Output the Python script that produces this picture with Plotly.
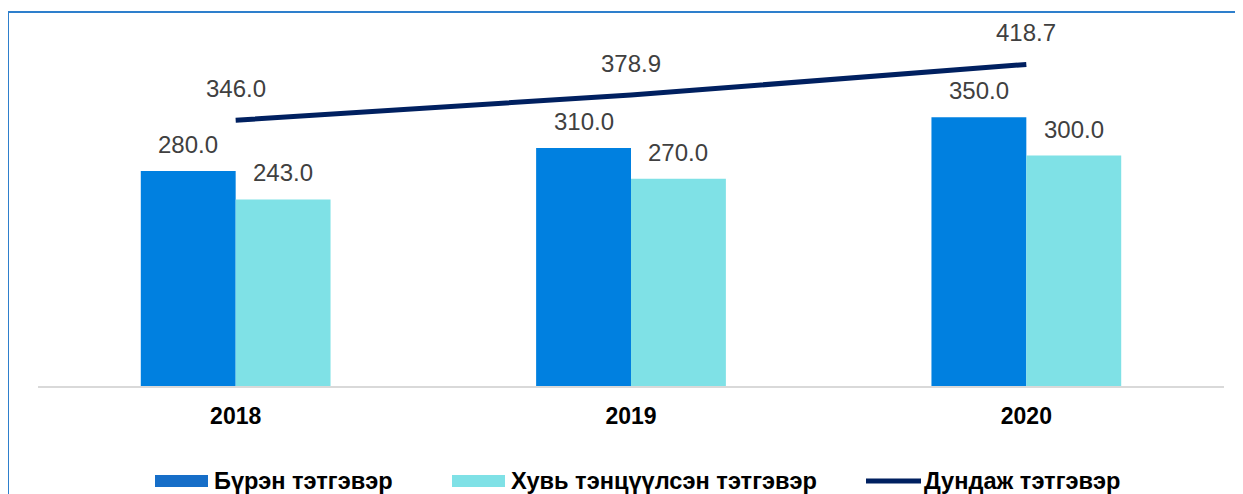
import plotly.graph_objects as go

years = ["2018", "2019", "2020"]
full_pension = [280.0, 310.0, 350.0]
partial_pension = [243.0, 270.0, 300.0]
avg_pension = [346.0, 378.9, 418.7]
series_names = ["Бүрэн тэтгэвэр", "Хувь тэнцүүлсэн тэтгэвэр", "Дундаж тэтгэвэр"]

C_FULL = "#0080E0"
C_FULL_LEG = "#166EC8"
C_PART = "#7FE1E6"
C_LINE = "#002060"
FONT = "Arial, Liberation Sans, sans-serif"

# page offset (body margin) compensation
OFF = 8
W, H = 1243, 494
ML, MR, MT, MB = 38 - OFF, W - (1224 - OFF), 12 - OFF, H - (386 - OFF)
pw = W - ML - MR
ph = H - MT - MB

def px2x(px):
    return (px - OFF - ML) / pw

def py2y(py):
    return (H - MB - (py - OFF)) / ph

fig = go.Figure()
fig.add_trace(go.Bar(x=years, y=full_pension, name=series_names[0],
                     marker=dict(color=C_FULL, line=dict(width=0)), showlegend=False))
fig.add_trace(go.Bar(x=years, y=partial_pension, name=series_names[1],
                     marker=dict(color=C_PART, line=dict(width=0)), showlegend=False))
fig.add_trace(go.Scatter(x=years, y=avg_pension, name=series_names[2], mode="lines",
                         line=dict(color=C_LINE, width=5), showlegend=False))

annotations = []
bar_off = pw / 3 * 0.48 / 4
lab_font = dict(family=FONT, size=24, color="#404040")
for i, yr in enumerate(years):
    annotations.append(dict(x=i, y=full_pension[i], xref="x", yref="y", text=f"{full_pension[i]:.1f}",
                            showarrow=False, xshift=-bar_off, yshift=11, yanchor="bottom", font=lab_font))
    annotations.append(dict(x=i, y=partial_pension[i], xref="x", yref="y", text=f"{partial_pension[i]:.1f}",
                            showarrow=False, xshift=bar_off, yshift=11, yanchor="bottom", font=lab_font))
    annotations.append(dict(x=i, y=avg_pension[i], xref="x", yref="y", text=f"{avg_pension[i]:.1f}",
                            showarrow=False, yshift=16, yanchor="bottom", font=lab_font))

leg_font = dict(family=FONT, size=23.6, color="#000000")
leg_y = py2y(481)
annotations += [
    dict(x=px2x(212), y=leg_y, xref="paper", yref="paper", text="<b>" + series_names[0] + "</b>",
         showarrow=False, xanchor="left", yanchor="middle", font=leg_font),
    dict(x=px2x(509), y=leg_y, xref="paper", yref="paper", text="<b>" + series_names[1] + "</b>",
         showarrow=False, xanchor="left", yanchor="middle", font=leg_font),
    dict(x=px2x(922), y=leg_y, xref="paper", yref="paper", text="<b>" + series_names[2] + "</b>",
         showarrow=False, xanchor="left", yanchor="middle", font=leg_font),
]

shapes = [
    dict(type="rect", xref="paper", yref="paper", x0=px2x(155), x1=px2x(208), y0=py2y(475), y1=py2y(487),
         fillcolor=C_FULL_LEG, line=dict(width=0)),
    dict(type="rect", xref="paper", yref="paper", x0=px2x(452), x1=px2x(505), y0=py2y(475), y1=py2y(487),
         fillcolor=C_PART, line=dict(width=0)),
    dict(type="line", xref="paper", yref="paper", x0=px2x(866), x1=px2x(921), y0=leg_y, y1=leg_y,
         line=dict(color=C_LINE, width=5)),
    dict(type="line", xref="paper", yref="paper", x0=px2x(8), x1=px2x(1270), y0=py2y(12), y1=py2y(12),
         line=dict(color="#2E7FCC", width=2)),
    dict(type="line", xref="paper", yref="paper", x0=px2x(8), x1=px2x(8), y0=py2y(12), y1=py2y(520),
         line=dict(color="#2E7FCC", width=2)),
]

fig.update_layout(
    width=W, height=H,
    margin=dict(l=ML, r=MR, t=MT, b=MB, autoexpand=False),
    paper_bgcolor="white", plot_bgcolor="white",
    barmode="group", bargap=0.52, bargroupgap=0,
    showlegend=False,
    annotations=annotations, shapes=shapes,
    font=dict(family=FONT),
)
fig.update_xaxes(type="category", range=[-0.5, 2.5], automargin=False, showline=True,
                 linecolor="#D9D9D9", linewidth=2,
                 ticks="", showgrid=False, ticklabelstandoff=8,
                 tickfont=dict(family=FONT, size=23, color="#000000", weight="bold"))
fig.update_yaxes(range=[0, ph / 0.768], visible=False, showgrid=False, zeroline=False, automargin=False)

fig.write_html("out.html")
